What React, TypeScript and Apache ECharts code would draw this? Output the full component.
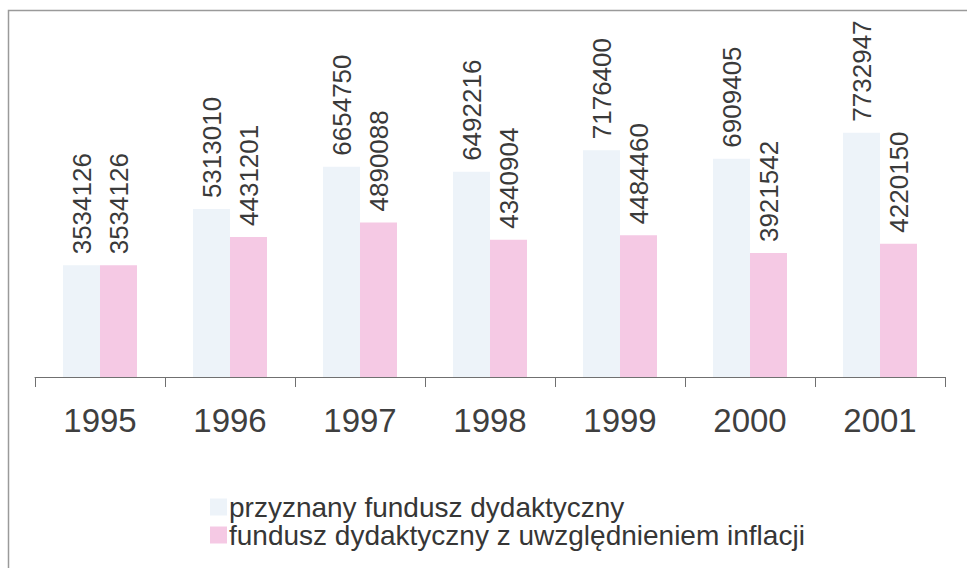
import React, { useEffect, useRef } from "react";
import * as echarts from "echarts";

const years = ["1995", "1996", "1997", "1998", "1999", "2000", "2001"];
const granted = [3534126, 5313010, 6654750, 6492216, 7176400, 6909405, 7732947];
const inflationAdjusted = [3534126, 4431201, 4890088, 4340904, 4484460, 3921542, 4220150];
const seriesNames = [
  "przyznany fundusz dydaktyczny",
  "fundusz dydaktyczny z uwzględnieniem inflacji",
];

const FONT = "'Liberation Sans', Arial, sans-serif";

export default function App() {
  const ref = useRef<HTMLDivElement>(null);
  useEffect(() => {
    if (!ref.current) return;
    const chart = echarts.init(ref.current, null, { renderer: "svg" });
    const label = {
      show: true,
      position: "top",
      rotate: 90,
      align: "left",
      verticalAlign: "middle",
      distance: 11,
      fontSize: 26,
      fontFamily: FONT,
      color: "#3a3a3a",
    };
    chart.setOption({
      animation: false,
      backgroundColor: "#ffffff",
      grid: { left: 35, right: 22, top: 61, bottom: 191 },
      graphic: [
        {
          type: "rect",
          shape: { x: 8.5, y: 10.5, width: 1000, height: 600 },
          style: { fill: "none", stroke: "#9a9a9a", lineWidth: 1.5 },
          silent: true,
        },
      ],
      legend: {
        orient: "vertical",
        left: 205,
        top: 488,
        itemGap: 0,
        itemWidth: 17,
        itemHeight: 17,
        icon: "rect",
        textStyle: {
          fontSize: 28,
          lineHeight: 28,
          fontFamily: FONT,
          color: "#363636",
          padding: [0, 0, 0, -3],
        },
        data: seriesNames,
      },
      xAxis: {
        type: "category",
        data: years,
        axisLine: { lineStyle: { color: "#707070", width: 1 } },
        axisTick: { show: true, length: 10, lineStyle: { color: "#707070" } },
        axisLabel: {
          fontSize: 33,
          fontFamily: FONT,
          color: "#3f3f3f",
          margin: 27,
        },
      },
      yAxis: {
        type: "value",
        min: 0,
        max: 10000000,
        show: false,
        splitLine: { show: false },
      },
      series: [
        {
          name: seriesNames[0],
          type: "bar",
          data: granted,
          barWidth: 37,
          barGap: "0%",
          itemStyle: { color: "#edf3f9" },
          label,
        },
        {
          name: seriesNames[1],
          type: "bar",
          data: inflationAdjusted,
          barWidth: 37,
          barGap: "0%",
          itemStyle: { color: "#f5c9e4" },
          label,
        },
      ],
    });
    return () => chart.dispose();
  }, []);
  return (
    <div
      ref={ref}
      style={{ position: "fixed", left: 0, top: 0, width: 967, height: 568 }}
    />
  );
}
